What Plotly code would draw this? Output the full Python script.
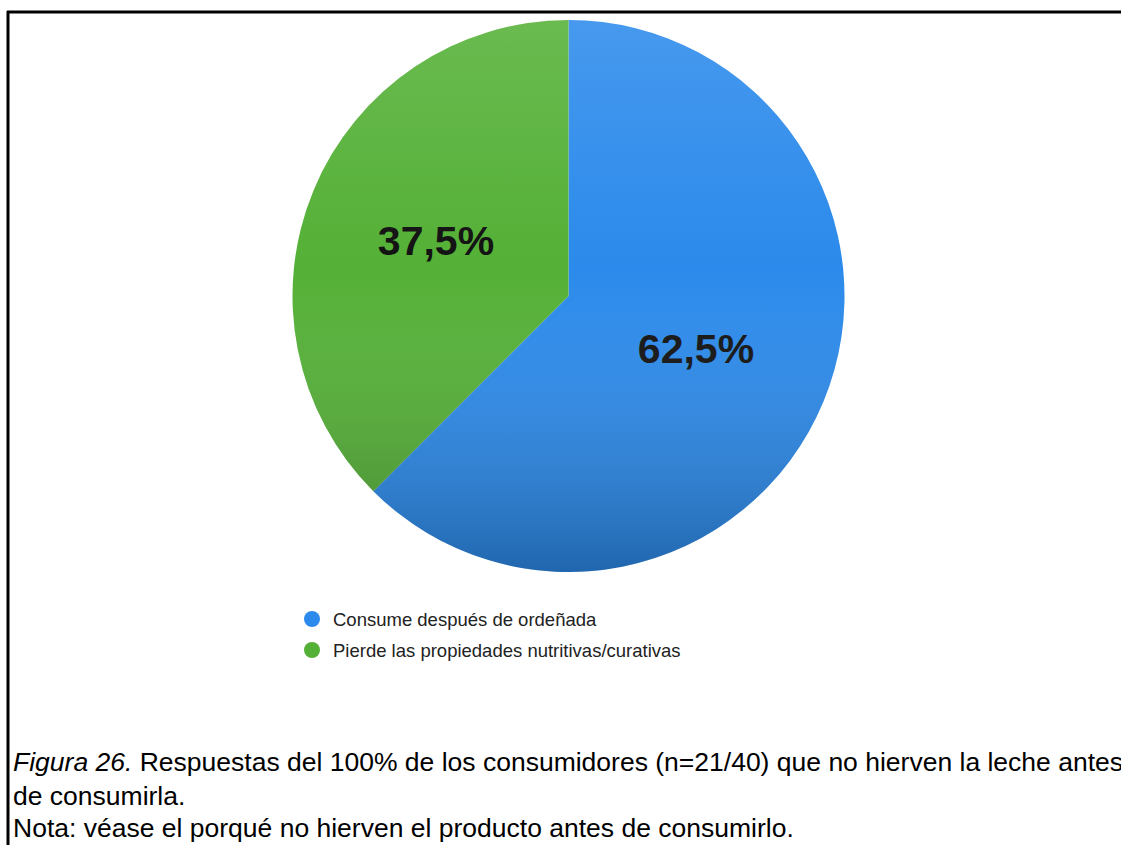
import base64
import plotly.graph_objects as go

# Survey answers (share of consumers who do not boil milk)
categories = ["Consume después de ordeñada", "Pierde las propiedades nutritivas/curativas"]
shares = [62.5, 37.5]
slice_colors = ["#2b8aeb", "#54b036"]

caption_lines = [
    "<i>Figura 26.</i> Respuestas del 100% de los consumidores (n=21/40) que no hierven la leche antes",
    "de consumirla.",
    "Nota: véase el porqué no hierven el producto antes de consumirlo.",
]

W, H = 1121, 845
FONT = "Liberation Sans, Arial, sans-serif"


def fx(x):
    return x / W


def fy(y):
    return 1 - y / H


labels_text = [f"{v:.1f}".replace(".", ",") + "%" for v in shares]

cx, cy, r = 568.5, 296, 276

fig = go.Figure()
fig.add_trace(go.Pie(
    labels=categories,
    values=shares,
    text=labels_text,
    textinfo="text",
    textposition="inside",
    insidetextorientation="horizontal",
    insidetextfont=dict(family=FONT, size=41, color="#111111", weight="bold"),
    marker=dict(colors=slice_colors, line=dict(width=0)),
    sort=False,
    direction="clockwise",
    rotation=0,
    showlegend=False,
    hoverinfo="label+percent",
    domain=dict(x=[fx(cx - r), fx(cx + r)], y=[fy(cy + r), fy(cy - r)]),
))

# soft vertical shading over the pie disc
svg = f"""<svg xmlns='http://www.w3.org/2000/svg' width='{2*r}' height='{2*r}' viewBox='0 0 {2*r} {2*r}'>
<defs><linearGradient id='g' x1='0' y1='0' x2='0' y2='1'>
<stop offset='0' stop-color='#ffffff' stop-opacity='0.13'/>
<stop offset='0.45' stop-color='#ffffff' stop-opacity='0'/>
<stop offset='1' stop-color='#000000' stop-opacity='0.26'/>
</linearGradient></defs>
<circle cx='{r}' cy='{r}' r='{r}' fill='url(#g)'/></svg>"""
uri = "data:image/svg+xml;base64," + base64.b64encode(svg.encode()).decode()

shapes = [
    dict(type="line", xref="paper", yref="paper", x0=fx(7), x1=fx(W), y0=fy(12), y1=fy(12),
         line=dict(color="black", width=3)),
    dict(type="line", xref="paper", yref="paper", x0=fx(8), x1=fx(8), y0=fy(11), y1=fy(H),
         line=dict(color="black", width=3)),
]

annotations = []
legend_y = [619, 650]
for name, col, ly in zip(categories, slice_colors, legend_y):
    shapes.append(dict(type="circle", xref="paper", yref="paper",
                       x0=fx(304), x1=fx(320), y0=fy(ly + 8), y1=fy(ly - 8),
                       fillcolor=col, line=dict(width=0)))
    annotations.append(dict(xref="paper", yref="paper", x=fx(331), y=fy(ly), xanchor="left",
                            yanchor="middle", showarrow=False, text=name,
                            font=dict(family=FONT, size=18.5, color="#222222")))

caption_y = [762, 796, 828]
for line, ly in zip(caption_lines, caption_y):
    annotations.append(dict(xref="paper", yref="paper", x=fx(11), y=fy(ly), xanchor="left",
                            yanchor="middle", showarrow=False, text=line,
                            font=dict(family=FONT, size=26.5, color="black")))

fig.update_layout(
    width=W, height=H, autosize=False,
    margin=dict(l=0, r=0, t=0, b=0, pad=0),
    paper_bgcolor="white", plot_bgcolor="white",
    shapes=shapes,
    annotations=annotations,
    images=[dict(source=uri, xref="paper", yref="paper", x=fx(cx - r), y=fy(cy - r),
                 sizex=2 * r / W, sizey=2 * r / H, xanchor="left", yanchor="top",
                 sizing="stretch", layer="above")],
)

fig.write_html("out.html")
